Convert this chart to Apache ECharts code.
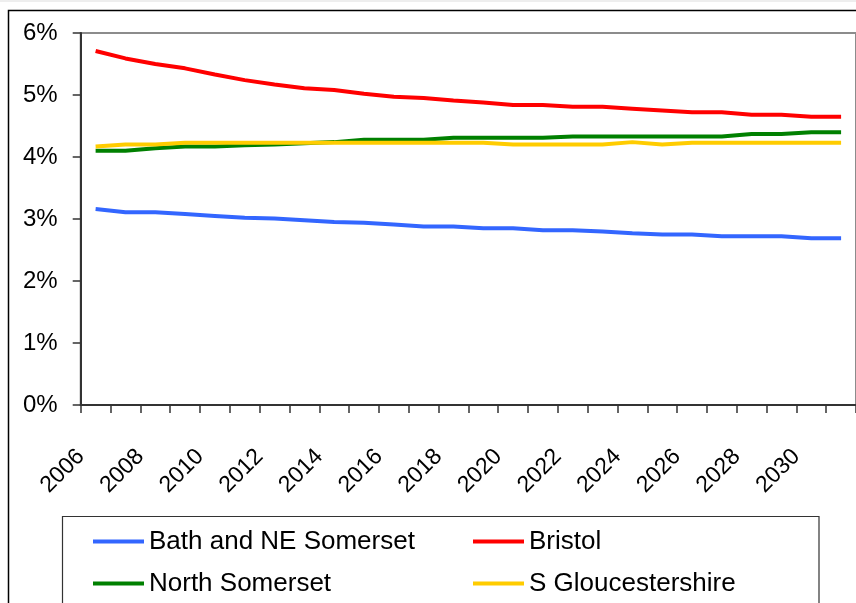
<!DOCTYPE html>
<html>
<head>
<meta charset="utf-8">
<script src="https://cdn.jsdelivr.net/npm/echarts@6/dist/echarts.min.js"></script>
<style>
html,body{margin:0;padding:0;background:#fff;}
#chart{width:856px;height:603px;}
</style>
</head>
<body>
<div id="chart"></div>
<script>
var years = ['2006','2007','2008','2009','2010','2011','2012','2013','2014','2015','2016','2017','2018','2019','2020','2021','2022','2023','2024','2025','2026','2027','2028','2029','2030','2031'];
var bathNES = [3.16,3.11,3.11,3.08,3.05,3.02,3.01,2.98,2.95,2.94,2.91,2.88,2.88,2.85,2.85,2.82,2.82,2.80,2.77,2.75,2.75,2.72,2.72,2.72,2.69,2.69];
var bristol = [5.71,5.59,5.50,5.43,5.33,5.24,5.17,5.11,5.08,5.02,4.97,4.95,4.91,4.88,4.84,4.84,4.81,4.81,4.78,4.75,4.72,4.72,4.68,4.68,4.65,4.65];
var northSomerset = [4.10,4.10,4.14,4.17,4.17,4.19,4.20,4.22,4.24,4.28,4.28,4.28,4.31,4.31,4.31,4.31,4.33,4.33,4.33,4.33,4.33,4.33,4.37,4.37,4.40,4.40];
var sGlos = [4.17,4.20,4.20,4.23,4.23,4.23,4.23,4.23,4.23,4.23,4.23,4.23,4.23,4.23,4.20,4.20,4.20,4.20,4.24,4.20,4.23,4.23,4.23,4.23,4.23,4.23];
var seriesNames = ['Bath and NE Somerset','Bristol','North Somerset','S Gloucestershire'];
var seriesData = [bathNES, bristol, northSomerset, sGlos];
var seriesColors = ['#3366FF','#FF0000','#008000','#FFCC00'];
var yTicks = [0,1,2,3,4,5,6];

var FONT = "'Liberation Sans', Arial, sans-serif";
var chart = echarts.init(document.getElementById('chart'), null, {renderer:'canvas'});

var series = seriesNames.map(function(n,i){
  return {
    name:n, type:'line', data:seriesData[i], showSymbol:false, symbol:'none',
    lineStyle:{color:seriesColors[i], width:4}, itemStyle:{color:seriesColors[i]},
    animation:false
  };
});

function makeLegend(left, names){
  return {
    orient:'vertical', left:left, top:528, padding:0,
    icon:'rect', itemWidth:51, itemHeight:4, itemGap:15, selectedMode:false,
    data:names,
    textStyle:{fontFamily:FONT, fontSize:26, lineHeight:27, color:'#000'}
  };
}

chart.setOption({
  animation:false,
  backgroundColor:'#fff',
  grid:{left:80.7, top:33, width:781, height:372, show:true, borderColor:'#8c8c8c', borderWidth:2, backgroundColor:'transparent'},
  xAxis:{
    type:'category', data:years, boundaryGap:true,
    axisLine:{lineStyle:{color:'#333', width:2}},
    axisTick:{show:true, interval:0, length:8, lineStyle:{color:'#333', width:1.5}},
    axisLabel:{interval:1, rotate:45, margin:33, padding:[0,21,0,0], fontFamily:FONT, fontSize:23, color:'#000'},
    splitLine:{show:false}
  },
  yAxis:{
    type:'value', min:yTicks[0], max:yTicks[yTicks.length-1], interval:1,
    axisLine:{show:true, lineStyle:{color:'#333', width:2}},
    axisTick:{show:true, length:8, lineStyle:{color:'#333', width:1.5}},
    axisLabel:{margin:23, formatter:'{value}%', fontFamily:FONT, fontSize:24, color:'#000'},
    splitLine:{show:false}
  },
  legend:[ makeLegend(93, [seriesNames[0], seriesNames[2]]), makeLegend(473, [seriesNames[1], seriesNames[3]]) ],
  graphic:[
    {type:'rect', shape:{x:0,y:0,width:856,height:2}, style:{fill:'#eeeeee'}, silent:true},
    {type:'rect', shape:{x:8.5,y:10.5,width:900,height:700}, style:{fill:'none', stroke:'#000', lineWidth:1.5}, silent:true},
    {type:'rect', shape:{x:62.5,y:516.5,width:756.5,height:200}, style:{fill:'none', stroke:'#333', lineWidth:1.2}, silent:true}
  ],
  series:series
});
</script>
</body>
</html>
